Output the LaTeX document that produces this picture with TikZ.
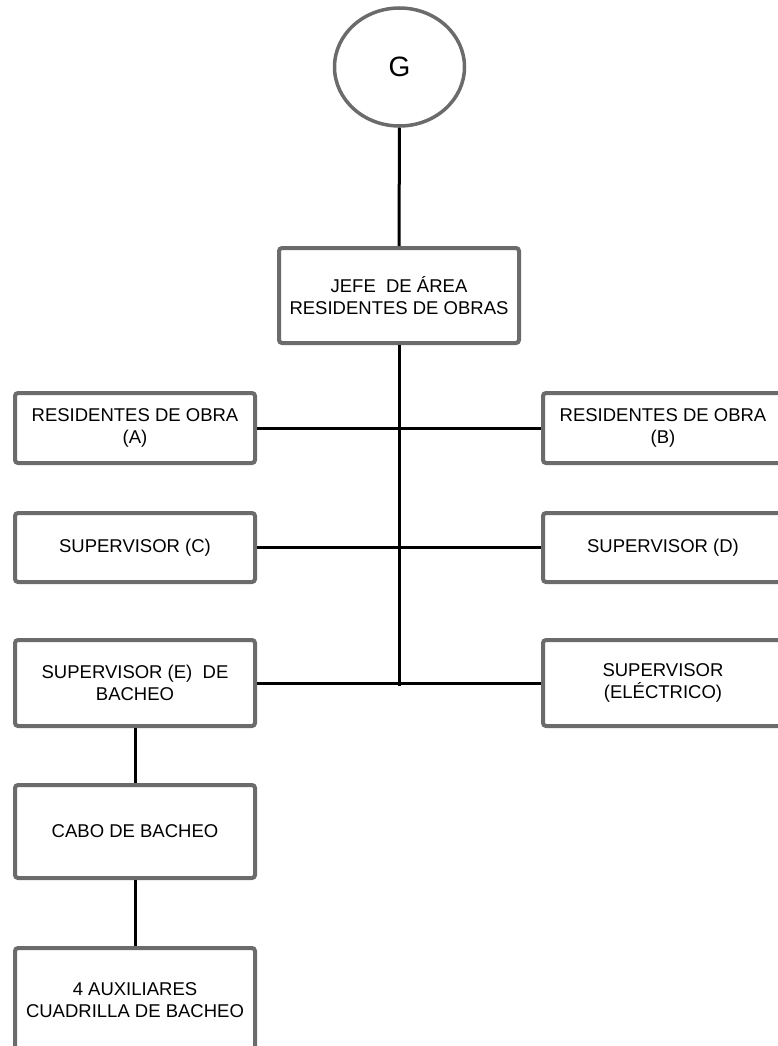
\documentclass[tikz,border=0pt]{standalone}
\usepackage{fontspec}
\setmainfont{Liberation Sans}
\usetikzlibrary{shapes.geometric}
\definecolor{boxgray}{HTML}{6B6B6B}

\begin{document}
\begin{tikzpicture}[x=1pt,y=-1pt,
  caja/.style={draw=boxgray, line width=4pt, rounded corners=3pt, fill=white,
    minimum width=240pt, inner sep=0pt, align=center,
    font=\fontsize{18.5}{22}\selectfont},
  linea/.style={black, line width=3pt}]

\useasboundingbox (0,0) rectangle (777,1046);

\node[draw=boxgray, line width=3.5pt, ellipse, minimum width=130pt, minimum height=118pt,
  font=\fontsize{28}{32}\selectfont] (g) at (399.5,67) {G};

\node[caja, minimum height=95pt] (jefe) at (399,295.5) {JEFE\ \ DE ÁREA\\RESIDENTES DE OBRAS};

\node[caja, minimum height=70pt] (resA) at (135,428) {RESIDENTES DE OBRA\\(A)};
\node[caja, minimum height=70pt] (resB) at (663,428) {RESIDENTES DE OBRA\\(B)};

\node[caja, minimum height=69pt] (supC) at (135,547.5) {SUPERVISOR (C)};
\node[caja, minimum height=69pt] (supD) at (663,547.5) {SUPERVISOR (D)};

\node[caja, minimum height=86pt] (supE) at (135,683) {SUPERVISOR (E)\ \ DE\\BACHEO};
\node[caja, minimum height=86pt] (supElec) at (663,683) {SUPERVISOR\\(ELÉCTRICO)};

\node[caja, minimum height=93pt] (cabo) at (135,831.5) {CABO DE BACHEO};
\node[caja, minimum height=104pt] (aux) at (135,1000) {4 AUXILIARES\\CUADRILLA DE BACHEO};

\coordinate (hub) at (399,686);

% conectores
\draw[linea] (g) -- (jefe);
\draw[linea] (jefe) -- (hub);
\draw[linea] (resA.east) -- (resB.west);
\draw[linea] (supC.east) -- (supD.west);
\draw[linea] (supE.east) -- (supElec.west);
\draw[linea] (supE) -- (cabo);
\draw[linea] (cabo) -- (aux);
\end{tikzpicture}
\end{document}
